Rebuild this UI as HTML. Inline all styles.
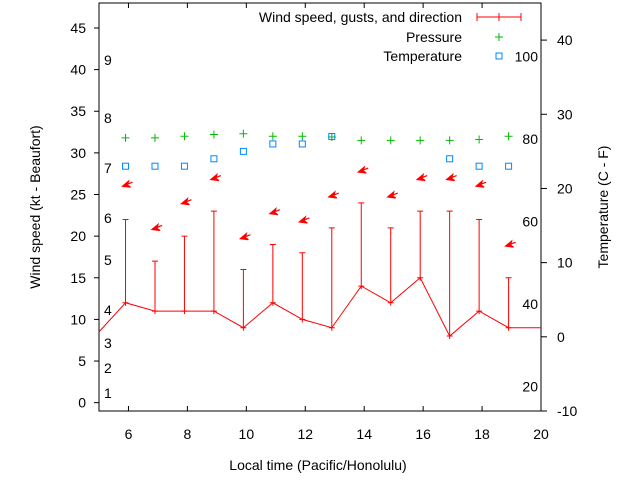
<!DOCTYPE html>
<html><head><meta charset="utf-8">
<style>
html,body{margin:0;padding:0;background:#fff;}
svg{display:block;font-family:"Liberation Sans",sans-serif;}
text{font-size:14px;fill:#000;}
</style></head>
<body>
<svg id="chart" width="640" height="480" viewBox="0 0 640 480" xmlns="http://www.w3.org/2000/svg">
<rect x="0" y="0" width="640" height="480" fill="#fff"/>
<g id="plot"></g>
<text x="318" y="470" text-anchor="middle">Local time (Pacific/Honolulu)</text>
<text transform="translate(40,207) rotate(-90)" text-anchor="middle">Wind speed (kt - Beaufort)</text>
<text transform="translate(608,207) rotate(-90)" text-anchor="middle">Temperature (C - F)</text>
<g>
<text x="462" y="22" text-anchor="end">Wind speed, gusts, and direction</text>
<line x1="477" y1="17" x2="521" y2="17" stroke="#f00"/>
<line x1="477" y1="13" x2="477" y2="21" stroke="#f00"/>
<line x1="521" y1="13" x2="521" y2="21" stroke="#f00"/>
<line x1="499" y1="13" x2="499" y2="21" stroke="#f00"/>
<text x="462" y="42" text-anchor="end">Pressure</text>
<path d="M495 37h8M499 33v8" stroke="#0b0" fill="none"/>
<text x="462" y="61" text-anchor="end">Temperature</text>
<rect x="496" y="53" width="6" height="6" fill="none" stroke="#08f"/>
</g>
</svg>
<script>
const hours=[5.9,6.9,7.9,8.9,9.9,10.9,11.9,12.9,13.9,14.9,15.9,16.9,17.9,18.9];
const wind=[12,11,11,11,9,12,10,9,14,12,15,8,11,9];
const gusts=[22,17,20,23,16,19,18,21,24,21,23,23,22,15];
const dirY=[26,20.8,23.9,26.8,19.7,22.7,21.7,24.7,27.7,24.7,26.8,26.8,26,18.8];
const pressure=[31.8,31.8,32,32.2,32.3,32,32,31.9,31.5,31.5,31.5,31.5,31.6,32];
const tempHours=[5.9,6.9,7.9,8.9,9.9,10.9,11.9,12.9,16.9,17.9,18.9];
const tempC=[23,23,23,24,25,26,26,27,24,23,23];
const xTicks=[6,8,10,12,14,16,18,20];
const yTicks=[0,5,10,15,20,25,30,35,40,45];
const y2Ticks=[-10,0,10,20,30,40];
const beaufort=[1,2,3,4,5,6,7,8,9];
const beaufortY=[393,368,343,310,260,218,168,118,60];
const fahr=[20,40,60,80,100];

const L=99,R=541,T=3,B=411;
const X=v=>L+(v-5)/15*(R-L);
const Y=v=>B-(v+1)/49*(B-T);
const Y2=c=>B-(c+10)/55*(B-T);
const ns="http://www.w3.org/2000/svg";
const g=document.getElementById('plot');
function el(tag,attrs,txt){const e=document.createElementNS(ns,tag);for(const k in attrs)e.setAttribute(k,attrs[k]);if(txt!==undefined)e.textContent=txt;g.appendChild(e);return e;}

let f=el('rect',{x:L,y:T,width:R-L,height:B-T,fill:'none',stroke:'#000'});


xTicks.forEach(t=>{
  el('line',{x1:X(t),x2:X(t),y1:B,y2:B-5,stroke:'#000'});
  el('line',{x1:X(t),x2:X(t),y1:T,y2:T+5,stroke:'#000'});
  const tx=el('text',{x:X(t),y:B+28,'text-anchor':'middle'},t);
  
  
});
yTicks.forEach(t=>{
  el('line',{x1:L-5,x2:L,y1:Y(t),y2:Y(t),stroke:'#000'});
  const tx=el('text',{x:L-13,y:Y(t)+5,'text-anchor':'end'},t);
  
  
});
y2Ticks.forEach(t=>{
  el('line',{x1:R,x2:R+6,y1:Y2(t),y2:Y2(t),stroke:'#000'});
  const tx=el('text',{x:R+16,y:Y2(t)+5,'text-anchor':'start'},t);
  
  
});
beaufort.forEach((b,i)=>{
  const tx=el('text',{x:104,y:beaufortY[i]+5},b);
  
  
});
fahr.forEach(fv=>{
  const tx=el('text',{x:538,y:Y2((fv-32)*5/9)+5,'text-anchor':'end'},fv);
  
  
});
// wind line
let pts=[[L,Y(8.5)]].concat(hours.map((h,i)=>[X(h),Y(wind[i])])).concat([[R,Y(wind[wind.length-1])]]);
let pl=el('polyline',{points:pts.map(p=>p.join(',')).join(' '),fill:'none',stroke:'#f00'});


hours.forEach((h,i)=>{
  const x=X(h);
  const gb=el('path',{d:`M${x} ${Y(wind[i])}V${Y(gusts[i])}M${x-3} ${Y(gusts[i])}h6M${x-3} ${Y(wind[i])}h6M${x} ${Y(wind[i])-3}v6`,stroke:'#f00',fill:'none'});
  
  
  const ay=Y(dirY[i]);
  const ar=el('path',{d:`M${x-3} ${ay}l10 -4M${x-3} ${ay}l6 -5l-1 4l3 2z`,stroke:'#f00',fill:'#f00','stroke-width':1.2});
  
  
  const p=el('path',{d:`M${x-4} ${Y(pressure[i])}h8M${x} ${Y(pressure[i])-4}v8`,stroke:'#0b0',fill:'none'});
  
  
});
tempHours.forEach((h,i)=>{
  const r=el('rect',{x:X(h)-3,y:Y2(tempC[i])-3,width:6,height:6,fill:'none',stroke:'#08f'});
  
  
});
</script>
</body></html>
